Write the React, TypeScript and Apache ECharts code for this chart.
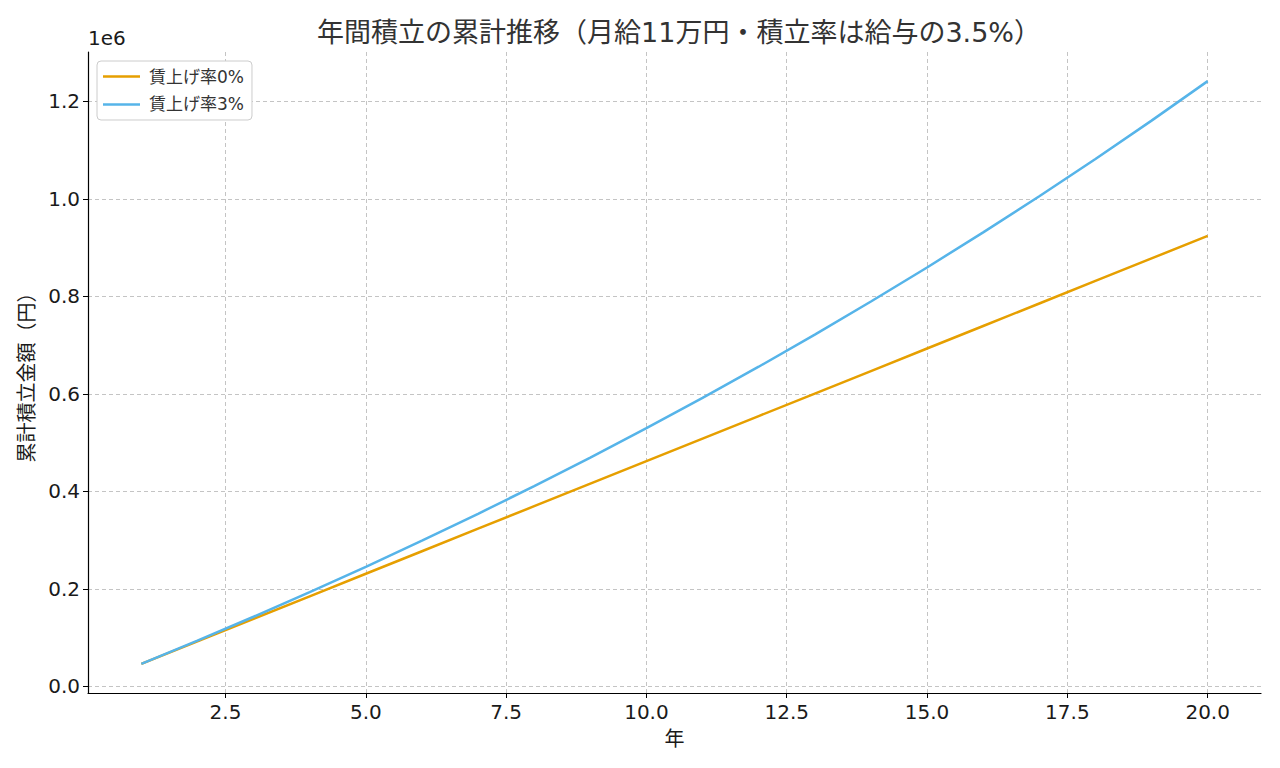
import React, { useEffect, useRef } from "react";
import * as echarts from "echarts";

const titleText = "年間積立の累計推移（月給11万円・積立率は給与の3.5%）";
const xAxisName = "年";
const yAxisName = "累計積立金額（円）";
const seriesNames = ["賃上げ率0%", "賃上げ率3%"];
const years = [1, 2, 3, 4, 5, 6, 7, 8, 9, 10, 11, 12, 13, 14, 15, 16, 17, 18, 19, 20];
const flatValues = [
  46200, 92400, 138600, 184800, 231000, 277200, 323400, 369600, 415800, 462000,
  508200, 554400, 600600, 646800, 693000, 739200, 785400, 831600, 877800, 924000,
];
const growthValues = [
  46200, 93786, 142800, 193284, 245282, 298841, 354006, 410826, 469351, 529631,
  591720, 655672, 721542, 789388, 859270, 931248, 1005385, 1081747, 1160399, 1241411,
];
const xTicks = [2.5, 5, 7.5, 10, 12.5, 15, 17.5, 20];
const yTicks = [0, 200000, 400000, 600000, 800000, 1000000, 1200000];
const colors = ["#E69F00", "#56B4E9"];

export default function App() {
  const ref = useRef<HTMLDivElement>(null);
  useEffect(() => {
    if (!ref.current) return;
    const chart = echarts.init(ref.current, null, { renderer: "svg" });
    const font = "'DejaVu Sans', 'Noto Sans CJK JP', sans-serif";
    const textColor = "#1a1a1a";
    const allVals = flatValues.concat(growthValues);
    const vMin = Math.min(...allVals);
    const vMax = Math.max(...allVals);
    const pad = (vMax - vMin) * 0.05;
    const xPad = (years[years.length - 1] - years[0]) * 0.05;
    chart.setOption({
      animation: false,
      backgroundColor: "#ffffff",
      textStyle: { fontFamily: font },
      title: {
        text: titleText,
        left: 674,
        top: 14,
        textAlign: "center",
        textStyle: { fontSize: 27, fontWeight: "normal", color: "#333333", fontFamily: font },
      },
      legend: {
        orient: "vertical",
        left: 97,
        top: 61,
        padding: [7, 8, 7, 6],
        icon: "rect",
        itemWidth: 37,
        itemHeight: 2.5,
        itemGap: 11,
        backgroundColor: "#ffffff",
        borderColor: "#cccccc",
        borderWidth: 1,
        borderRadius: 4,
        textStyle: { fontSize: 17, color: "#333333", fontFamily: font, padding: [0, 0, 0, 4] },
        data: seriesNames,
      },
      graphic: [
        {
          type: "text",
          left: 88,
          top: 28,
          style: { text: "1e6", font: `20px ${font}`, fill: textColor },
        },
      ],
      grid: { left: 88, right: 19, top: 52, bottom: 75, containLabel: false },
      xAxis: {
        type: "value",
        min: years[0] - xPad,
        max: years[years.length - 1] + xPad,
        name: xAxisName,
        nameLocation: "middle",
        nameGap: 36,
        nameTextStyle: { fontSize: 20, color: textColor, fontFamily: font },
        axisLine: { show: true, onZero: false, lineStyle: { color: "#000000", width: 1.2 } },
        axisTick: { show: true, length: 5, customValues: xTicks, lineStyle: { color: "#000000" } },
        axisLabel: {
          customValues: xTicks,
          fontSize: 20,
          fontFamily: font,
          color: textColor,
          margin: 9,
          formatter: (v: number) => v.toFixed(1),
        },
        splitLine: { show: true, lineStyle: { color: "#c4c4c4", type: [4, 3], width: 1 } },
      },
      yAxis: {
        type: "value",
        min: vMin - pad,
        max: vMax + pad,
        name: yAxisName,
        nameLocation: "middle",
        nameGap: 50,
        nameRotate: 90,
        nameTextStyle: { fontSize: 20, color: textColor, fontFamily: font },
        axisLine: { show: true, onZero: false, lineStyle: { color: "#000000", width: 1.2 } },
        axisTick: { show: true, length: 5, customValues: yTicks, lineStyle: { color: "#000000" } },
        axisLabel: {
          customValues: yTicks,
          fontSize: 20,
          fontFamily: font,
          color: textColor,
          margin: 8,
          formatter: (v: number) => (v / 1e6).toFixed(1),
        },
        splitLine: { show: true, lineStyle: { color: "#c4c4c4", type: [4, 3], width: 1 } },
      },
      series: [
        {
          name: seriesNames[0],
          type: "line",
          data: years.map((y, i) => [y, flatValues[i]]),
          symbol: "none",
          lineStyle: { color: colors[0], width: 2.5 },
          itemStyle: { color: colors[0] },
        },
        {
          name: seriesNames[1],
          type: "line",
          data: years.map((y, i) => [y, growthValues[i]]),
          symbol: "none",
          lineStyle: { color: colors[1], width: 2.5 },
          itemStyle: { color: colors[1] },
        },
      ],
    });
    return () => chart.dispose();
  }, []);
  return (
    <div
      ref={ref}
      style={{ position: "fixed", left: 0, top: 0, width: 1280, height: 768 }}
    />
  );
}
